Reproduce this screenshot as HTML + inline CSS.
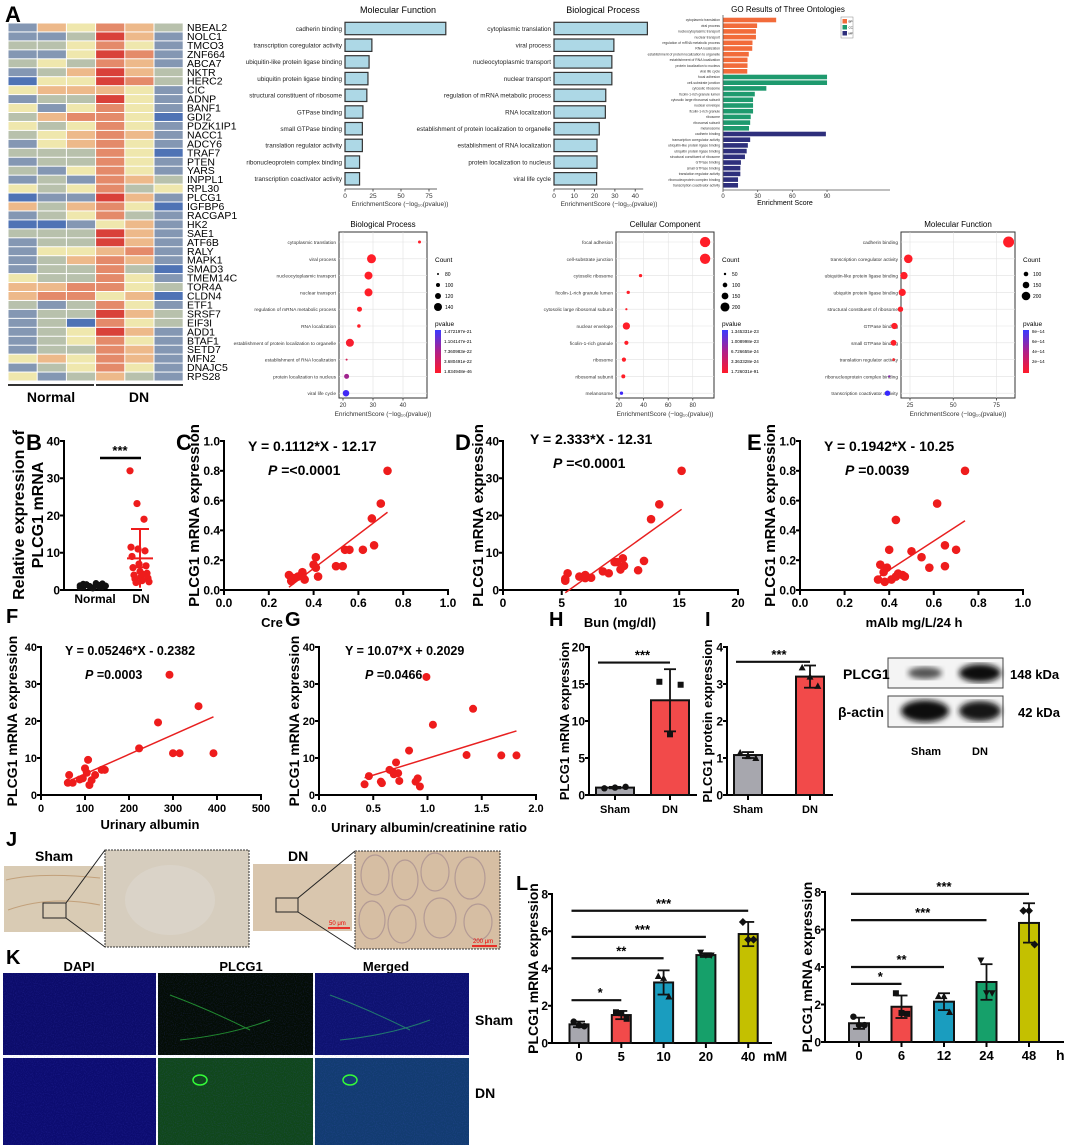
<!DOCTYPE html>
<html><head><meta charset="utf-8"><style>
html,body{margin:0;padding:0;background:#fff}
svg{display:block;font-family:"Liberation Sans",Arial,sans-serif}
</style></head><body>
<svg id="fig" width="1065" height="1145" viewBox="0 0 1065 1145" xmlns="http://www.w3.org/2000/svg">
<defs>
<linearGradient id="pgrad" x1="0" y1="0" x2="0" y2="1"><stop offset="0" stop-color="#3a3aff"/><stop offset="0.5" stop-color="#b0208a"/><stop offset="1" stop-color="#ff1a2a"/></linearGradient>
<filter id="blur1"><feGaussianBlur stdDeviation="3"/></filter>
<filter id="noiseB" x="0" y="0" width="1" height="1"><feTurbulence type="fractalNoise" baseFrequency="0.9" numOctaves="1" seed="3"/><feColorMatrix values="0 0 0 0 0.1  0 0 0 0 0.1  0 0 0 0 0.9  0 0 0 1.6 -0.7"/><feComposite in2="SourceGraphic" operator="in"/></filter>
</defs>
<text x="5" y="22" font-size="22" font-weight="bold">A</text>
<text x="26" y="450" font-size="22" font-weight="bold">B</text>
<text x="176" y="450" font-size="22" font-weight="bold">C</text>
<text x="455" y="450" font-size="22" font-weight="bold">D</text>
<text x="747" y="450" font-size="22" font-weight="bold">E</text>
<text x="6" y="623" font-size="20" font-weight="bold">F</text>
<text x="285" y="626" font-size="20" font-weight="bold">G</text>
<text x="549" y="626" font-size="20" font-weight="bold">H</text>
<text x="705" y="626" font-size="20" font-weight="bold">I</text>
<text x="6" y="846" font-size="20" font-weight="bold">J</text>
<text x="6" y="964" font-size="20" font-weight="bold">K</text>
<text x="516" y="890" font-size="20" font-weight="bold">L</text>

<g>
<text x="35" y="861" font-size="14" font-weight="bold">Sham</text>
<rect x="4" y="866" width="99" height="66" fill="#d9cbb4"/>
<path d="M6 880 Q40 872 100 878 M8 910 Q50 895 100 905" stroke="#c2a07a" stroke-width="1" fill="none"/>
<rect x="43" y="903" width="23" height="15" fill="none" stroke="#222" stroke-width="1"/>
<line x1="66" y1="903" x2="105" y2="850" stroke="#222"/><line x1="66" y1="918" x2="105" y2="947" stroke="#222"/>
<rect x="105" y="850" width="144" height="97" fill="#d6cdbe" stroke="#333" stroke-dasharray="2,1"/>
<ellipse cx="170" cy="900" rx="45" ry="35" fill="#dcd6cc" opacity="0.7"/>
<text x="288" y="861" font-size="14" font-weight="bold">DN</text>
<rect x="253" y="864" width="99" height="67" fill="#d9c6ae"/>
<rect x="276" y="898" width="22" height="14" fill="none" stroke="#222"/>
<line x1="298" y1="898" x2="355" y2="851" stroke="#222"/><line x1="298" y1="912" x2="355" y2="949" stroke="#222"/>
<line x1="328" y1="928" x2="350" y2="928" stroke="#e00" stroke-width="1.5"/>
<text x="329" y="925" font-size="6" fill="#e00">50 μm</text>
<rect x="355" y="851" width="145" height="98" fill="#d6bea3" stroke="#333" stroke-dasharray="2,1"/>
<g fill="none" stroke="#b39a95" stroke-width="1.2">
<ellipse cx="375" cy="875" rx="14" ry="20"/><ellipse cx="405" cy="880" rx="13" ry="20"/><ellipse cx="435" cy="872" rx="14" ry="19"/><ellipse cx="470" cy="878" rx="15" ry="21"/>
<ellipse cx="372" cy="920" rx="13" ry="19"/><ellipse cx="402" cy="924" rx="14" ry="19"/><ellipse cx="440" cy="918" rx="16" ry="20"/><ellipse cx="478" cy="922" rx="14" ry="18"/></g>
<line x1="472" y1="946" x2="497" y2="946" stroke="#e00" stroke-width="1.5"/>
<text x="473" y="943" font-size="6" fill="#e00">200 μm</text>
</g>

<g>
<text x="79" y="971" font-size="13" font-weight="bold" text-anchor="middle">DAPI</text>
<text x="241" y="971" font-size="13" font-weight="bold" text-anchor="middle">PLCG1</text>
<text x="386" y="971" font-size="13" font-weight="bold" text-anchor="middle">Merged</text>
<rect x="3" y="973" width="153" height="82" fill="#0c0c6a"/>
<rect x="158" y="973" width="155" height="82" fill="#040d05"/>
<path d="M170 995 Q210 1010 250 1030 M180 1040 Q230 1035 270 1020" stroke="#1f8a2a" stroke-width="1" fill="none"/>
<rect x="315" y="973" width="154" height="82" fill="#0e1270"/>
<path d="M330 995 Q370 1010 410 1030 M340 1040 Q390 1035 430 1020" stroke="#1f7a6a" stroke-width="1" fill="none"/>
<rect x="3" y="1058" width="153" height="87" fill="#0c0c70"/>
<rect x="158" y="1058" width="155" height="87" fill="#10471a"/>
<ellipse cx="200" cy="1080" rx="7" ry="5" fill="none" stroke="#3f3" stroke-width="1.5"/>
<rect x="315" y="1058" width="154" height="87" fill="#123c70"/>
<ellipse cx="350" cy="1080" rx="7" ry="5" fill="none" stroke="#3f3" stroke-width="1.5"/>
<rect x="3" y="973" width="466" height="172" fill="#fff" filter="url(#noiseB)" opacity="0.25"/>
<text x="475" y="1025" font-size="14" font-weight="bold">Sham</text>
<text x="475" y="1098" font-size="14" font-weight="bold">DN</text>
</g>

<g>
<rect x="888" y="658" width="115" height="30" fill="#f4f4f4" stroke="#444"/>
<rect x="888" y="696" width="115" height="31" fill="#f4f4f4" stroke="#444"/>
<ellipse cx="925" cy="673" rx="17" ry="6" fill="#555" filter="url(#blur1)"/>
<ellipse cx="980" cy="673" rx="21" ry="9" fill="#111" filter="url(#blur1)"/>
<ellipse cx="925" cy="711" rx="24" ry="11" fill="#0a0a0a" filter="url(#blur1)"/>
<ellipse cx="980" cy="711" rx="21" ry="10" fill="#151515" filter="url(#blur1)"/>
<text x="843" y="679" font-size="14" font-weight="bold">PLCG1</text>
<text x="838" y="717" font-size="14" font-weight="bold">β-actin</text>
<text x="1010" y="679" font-size="13" font-weight="bold">148 kDa</text>
<text x="1018" y="717" font-size="13" font-weight="bold">42 kDa</text>
<text x="926" y="755" font-size="11" font-weight="bold" text-anchor="middle">Sham</text>
<text x="980" y="755" font-size="11" font-weight="bold" text-anchor="middle">DN</text>
</g>
</svg>
<script>
const heatGenes=["NBEAL2","NOLC1","TMCO3","ZNF664","ABCA7","NKTR","HERC2","CIC","ADNP","BANF1","GDI2","PDZK1IP1","NACC1","ADCY6","TRAF7","PTEN","YARS","INPPL1","RPL30","PLCG1","IGFBP6","RACGAP1","HK2","SAE1","ATF6B","RALY","MAPK1","SMAD3","TMEM14C","TOR4A","CLDN4","ETF1","SRSF7","EIF3I","ADD1","BTAF1","SETD7","MFN2","DNAJC5","RPS28"];
const heatLevels=[[1,4,3,5,4,2],[1,1,2,6,4,1],[2,2,3,5,3,1],[1,1,3,6,5,1],[2,3,2,5,4,1],[1,2,4,6,4,2],[0,3,3,6,5,2],[3,4,4,4,3,1],[1,2,2,6,3,1],[3,1,3,5,3,1],[2,4,5,5,3,0],[3,2,3,5,3,1],[2,3,4,5,4,1],[1,3,4,5,3,1],[2,2,2,5,3,0],[1,2,2,5,3,1],[2,1,3,5,3,1],[1,2,1,5,4,2],[3,2,3,5,2,3],[0,1,1,6,4,1],[4,2,4,5,3,0],[1,2,3,5,2,1],[0,0,1,3,4,1],[2,2,2,6,4,1],[1,2,2,6,4,1],[1,3,3,4,5,1],[1,2,4,5,4,1],[1,2,2,5,2,0],[3,2,2,5,3,1],[4,4,5,5,3,2],[4,5,5,3,4,0],[2,1,2,5,3,1],[1,2,2,6,4,2],[1,2,0,5,3,2],[1,2,3,6,4,1],[1,2,3,5,3,1],[1,2,2,5,4,1],[3,4,3,5,4,1],[1,2,3,5,3,1],[3,1,2,4,2,1]];
const heatGroups=["Normal","DN"];
const mfTerms=["cadherin binding","transcription coregulator activity","ubiquitin-like protein ligase binding","ubiquitin protein ligase binding","structural constituent of ribosome","GTPase binding","small GTPase binding","translation regulator activity","ribonucleoprotein complex binding","transcription coactivator activity"];
const mfScores=[90,24,21.5,20.5,19.5,16,15.5,15.5,13,13];
const bpTerms=["cytoplasmic translation","viral process","nucleocytoplasmic transport","nuclear transport","regulation of mRNA metabolic process","RNA localization","establishment of protein localization to organelle","establishment of RNA localization","protein localization to nucleus","viral life cycle"];
const bpScores=[46,29.5,28.5,28.5,25.5,25.3,22.3,21.2,21.2,21];
const ccTerms=["focal adhesion","cell-substrate junction","cytosolic ribosome","ficolin-1-rich granule lumen","cytosolic large ribosomal subunit","nuclear envelope","ficolin-1-rich granule","ribosome","ribosomal subunit","melanosome"];
const ccScores=[90,90,37.5,27.5,26,26,26,24,23.5,22.5];
const mf3Scores=[89,23.5,21.5,20.5,19,15.5,15,15,13,13];
const bpDotScore=[45.5,29.5,28.5,28.5,25.5,25.3,22.3,21.2,21.2,21];
const bpDotCount=[90,150,140,140,110,95,140,65,110,125];
const bpDotP=[1.8e-46,1e-30,1e-29,1e-29,3e-26,5e-26,5e-23,3e-22,7e-22,1.4e-21];
const ccDotScore=[90,90,37.5,27.5,26,26,26,24,23.5,22];
const ccDotCount=[230,230,70,70,45,160,90,90,85,70];
const ccDotP=[1.7e-91,1.7e-91,1e-40,1e-30,1e-28,1e-28,1e-28,1e-26,1e-26,1.3e-23];
const mfDotScore=[82,24,21.5,20.5,19.5,16,15.5,15.5,13,12];
const mfDotCount=[260,200,170,165,120,140,130,50,40,120];
const mfDotP=[1e-88,1e-24,1e-22,1e-21,1e-20,1e-17,1e-16,1e-16,5e-14,8e-14];
const bNormal=[1.2,0.8,1.5,1.0,0.6,1.8,1.3,0.9,1.1,0.7,1.6,1.4,1.0,0.5,1.2,0.9,1.7,1.1];
const bDN=[32,23.2,19,11.5,11,10.5,9,7,6.5,6,5,4.5,4,3.5,3.2,3,2.5,2.2,2,4.2];
const cX=[0.29,0.30,0.31,0.33,0.35,0.36,0.35,0.40,0.41,0.41,0.42,0.50,0.53,0.54,0.56,0.62,0.66,0.67,0.70,0.73];
const cY=[0.10,0.06,0.08,0.09,0.12,0.07,0.10,0.17,0.22,0.15,0.09,0.16,0.16,0.27,0.27,0.27,0.48,0.30,0.58,0.80];
const dX=[5.3,5.3,5.5,6.5,7,7,7.5,8.5,9,9.5,9.7,10,10.2,10.3,11.5,12,12.6,13.3,15.2];
const dY=[3,2.5,4.5,3.6,4,3.2,3.3,5,4.5,7.5,7.5,5.5,8.5,6.5,5.3,7.8,19,23,32];
const eX=[0.35,0.36,0.375,0.38,0.39,0.40,0.41,0.43,0.43,0.44,0.46,0.47,0.50,0.545,0.58,0.615,0.65,0.65,0.70,0.74];
const eY=[0.07,0.17,0.12,0.055,0.15,0.27,0.07,0.09,0.47,0.11,0.10,0.09,0.26,0.22,0.15,0.58,0.16,0.30,0.27,0.80];
const fX=[61,64,72,88,95,100,104,107,110,115,123,138,145,223,266,292,300,315,358,392];
const fY=[3.3,5.4,3.3,4.2,4.5,7.2,6,9.5,2.7,4,5.4,6.8,6.8,12.6,19.6,32.5,11.3,11.3,24,11.3];
const gX=[0.42,0.46,0.57,0.58,0.65,0.68,0.69,0.71,0.73,0.74,0.83,0.89,0.91,0.93,0.99,1.05,1.36,1.42,1.68,1.82];
const gY=[2.9,5.1,3.6,3.2,6.8,6.3,5.6,8.8,5.9,3.8,12,3.6,4.5,2.3,31.9,19,10.8,23.3,10.7,10.7];
const unitTicks=[0,0.2,0.4,0.6,0.8,1.0];
const unitTickLabels=["0.0","0.2","0.4","0.6","0.8","1.0"];
const forty=[0,10,20,30,40];
const hCats=["Sham","DN"], hMeans=[1.0,12.8], hErr=[0.1,4.2], hPts=[[0.9,1.0,1.1],[15.3,8.2,14.9]];
const iCats=["Sham","DN"], iMeans=[1.08,3.2], iErr=[0.08,0.3], iPts=[[1.15,1.05,1.0],[3.45,3.2,2.95]];
const l1Cats=["0","5","10","20","40"], l1Means=[1.0,1.5,3.25,4.72,5.85], l1Err=[0.15,0.22,0.65,0.1,0.65];
const l1Pts=[[1.15,0.95,0.9],[1.65,1.6,1.3],[3.6,3.5,2.5],[4.85,4.7,4.7],[6.5,5.55,5.55]];
const l1Sig=[[0,1,2.3,"*"],[0,2,4.55,"**"],[0,3,5.7,"***"],[0,4,7.1,"***"]];
const l2Cats=["0","6","12","24","48"], l2Means=[1.0,1.88,2.15,3.2,6.35], l2Err=[0.3,0.6,0.45,0.95,1.05];
const l2Pts=[[1.35,0.9,0.9],[2.6,1.55,1.5],[2.45,2.45,1.6],[4.35,2.6,2.6],[7.0,7.0,5.2]];
const l2Sig=[[0,1,3.1,"*"],[0,2,4.0,"**"],[0,3,6.5,"***"],[0,4,7.9,"***"]];

const svg=document.getElementById('fig');
const NS='http://www.w3.org/2000/svg';
function mk(tag,attrs,parent){const e=document.createElementNS(NS,tag);for(const k in attrs)e.setAttribute(k,attrs[k]);(parent||svg).appendChild(e);return e;}
function lin(d0,d1,r0,r1){return v=>r0+(v-d0)*(r1-r0)/(d1-d0);}
function txt(s,x,y,size,name,o){o=o||{};const e=mk('text',{x:x,y:y,'font-size':size,'text-anchor':o.anchor||'start','font-weight':o.bold?'bold':'normal',fill:o.fill||'#000'});
 if(o.rot)e.setAttribute('transform','rotate(-90 '+x+' '+y+')');
 if(o.family)e.setAttribute('font-family',o.family);
 e.textContent=s;
 
 
 return e;}
function ln(x1,y1,x2,y2,w,c,name){const e=mk('line',{x1:x1,y1:y1,x2:x2,y2:y2,stroke:c||'#000','stroke-width':w||1});
 
 
 return e;}

const heatColors=['#4f73b5','#8497b3','#b8c1ac','#efe7ad','#edb98a','#e48a6a','#d9413a'];
(function(){const x0=8,y0=23,cw=29.2,rh=8.95;
 heatLevels.forEach((row,r)=>{row.forEach((v,c)=>{const e=mk('rect',{x:x0+c*cw+0.5,y:y0+r*rh+0.5,width:cw-1,height:rh-1,fill:heatColors[v]});
  
  });
  txt(heatGenes[r],187,y0+r*rh+8,10.5,'gene-label');});
 const yb=y0+heatLevels.length*rh+4;
 ln(8,yb,94,yb,2,'#333','group-bar-normal');ln(96,yb,183,yb,2,'#333','group-bar-dn');
 txt(heatGroups[0],51,yb+17,14,'group-label-normal',{anchor:'middle',bold:true});
 txt(heatGroups[1],139,yb+17,14,'group-label-dn',{anchor:'middle',bold:true});})();

function goBar(terms,scores,x0,pxPer,ticks,title,titleX,name){const sx=v=>x0+v*pxPer;
 txt(title,titleX,13,9,name+'-title',{anchor:'middle'});
 terms.forEach((t,i)=>{const yc=28.5+i*16.7;
  const b=mk('rect',{x:sx(0),y:yc-6.2,width:sx(scores[i])-sx(0),height:12.4,fill:'#add8e6',stroke:'#333','stroke-width':1.2});
  
  
  txt(t,x0-3,yc+2.3,6.3,name+'-term-label',{anchor:'end',fill:'#222'});});
 ln(x0,189,sx(ticks[ticks.length-1])+8,189,0.8,'#333',name+'-x-axis');
 ticks.forEach(t=>{ln(sx(t),189,sx(t),191.5,0.8,'#333',name+'-tick');txt(String(t),sx(t),198,6.5,name+'-tick-label',{anchor:'middle',fill:'#333'});});
 txt('EnrichmentScore (−log₁₀(pvalue))',x0+55,206,6.5,name+'-x-title',{anchor:'middle',fill:'#333'});}
goBar(mfTerms,mfScores,345,1.12,[0,25,50,75],'Molecular Function',398,'mf-bar');
goBar(bpTerms,bpScores,554,2.03,[0,10,20,30,40],'Biological Process',603,'bp-bar');

(function(){const x0=723,per=1.156,sx=v=>x0+v*per;const cols=['#f26b3a','#1e9a6e','#2e2f7c'];
 const groups=[[bpTerms,bpScores],[ccTerms,ccScores],[mfTerms,mf3Scores]];
 txt('GO Results of Three Ontologies',788,12,8,'go3-title',{anchor:'middle'});
 let k=0;groups.forEach((g,gi)=>{g[0].forEach((t,i)=>{const yc=20+k*5.7;
  const b=mk('rect',{x:x0,y:yc-2.3,width:sx(g[1][i])-x0,height:4.6,fill:cols[gi]});
  
  
  txt(t,x0-3,yc+1.2,3.4,'go3-term-label',{anchor:'end',fill:'#333'});k++;});});
 ln(x0,15,x0,190,0.8,'#555','go3-y-axis');ln(x0,190,890,190,0.8,'#555','go3-x-axis');
 [0,30,60,90].forEach(t=>{ln(sx(t),190,sx(t),192,0.8,'#555','go3-tick');txt(String(t),sx(t),198,6,'go3-tick-label',{anchor:'middle',fill:'#333'});});
 txt('Enrichment Score',785,205,7,'go3-x-title',{anchor:'middle'});
 const lg=mk('rect',{x:841,y:17,width:12,height:21,fill:'#fff',stroke:'#888','stroke-width':0.5});
 
 
 ['BP','CC','MF'].forEach((s,i)=>{const r=mk('rect',{x:842.5,y:19+i*6,width:4.5,height:4.5,fill:cols[i]});
  
  
  txt(s,848.5,22.5+i*6,3,'go3-legend-label');});})();

function dotPlot(terms,scores,counts,pvals,cfg){const sx=lin(cfg.d0,cfg.d0+1,cfg.p0,cfg.p0+cfg.per);
 txt(cfg.title,(cfg.fx0+cfg.fx1)/2,227,8,cfg.name+'-title',{anchor:'middle'});
 const fr=mk('rect',{x:cfg.fx0,y:232,width:cfg.fx1-cfg.fx0,height:166,fill:'#fff',stroke:'#333','stroke-width':1});
 
 
 cfg.ticks.forEach(t=>{ln(sx(t),232,sx(t),398,0.5,'#ddd',cfg.name+'-grid-v');ln(sx(t),398,sx(t),400.5,0.8,'#333',cfg.name+'-tick');txt(String(t),sx(t),407,6,cfg.name+'-tick-label',{anchor:'middle',fill:'#333'});});
 const pmin=Math.min(...pvals),pmax=cfg.pmax;
 terms.forEach((t,i)=>{const yc=242+i*16.8;ln(cfg.fx0,yc,cfg.fx1,yc,0.6,'#e2e2e2',cfg.name+'-grid-h');
  txt(t,cfg.fx0-3,yc+2,4.8,cfg.name+'-term-label',{anchor:'end',fill:'#333'});
  const tt=Math.min(1,Math.max(0,(pvals[i]-pmin)/(pmax-pmin)));
  const col='rgb('+Math.round(255-200*tt)+','+Math.round(30+10*tt)+','+Math.round(40+215*tt)+')';
  const d=mk('circle',{cx:sx(scores[i]),cy:yc,r:Math.max(1,cfg.rad(counts[i])),fill:col});
  
  });
 txt('EnrichmentScore (−log₁₀(pvalue))',(cfg.fx0+cfg.fx1)/2,416,6.5,cfg.name+'-x-title',{anchor:'middle',fill:'#333'});
 const lx=cfg.fx1+8;txt('Count',lx,262,6.5,cfg.name+'-count-legend-title');
 cfg.legCounts.forEach((c,i)=>{const d=mk('circle',{cx:lx+3,cy:274+i*11,r:cfg.rad(c),fill:'#000'});
  
  
  txt(String(c),lx+10,276+i*11,5,cfg.name+'-count-legend-label');});
 txt('pvalue',lx,326,6.5,cfg.name+'-pvalue-legend-title');
 const g=mk('rect',{x:lx,y:330,width:6,height:43,fill:'url(#pgrad)'});
 
 
 cfg.pLabels.forEach((s,i)=>txt(s,lx+9,333+i*10,4.5,cfg.name+'-pvalue-legend-label'));}
dotPlot(bpTerms,bpDotScore,bpDotCount,bpDotP,{name:'bp-dot',title:'Biological Process',fx0:339,fx1:427,d0:20,p0:343,per:3,ticks:[20,30,40],pmax:1.47e-21,rad:c=>4*(c-60)/80,legCounts:[80,100,120,140],pLabels:['1.472197e-21','1.104147e-21','7.360983e-22','3.680491e-22','1.834948e-46']});
dotPlot(ccTerms,ccDotScore,ccDotCount,ccDotP,{name:'cc-dot',title:'Cellular Component',fx0:616,fx1:714,d0:20,p0:619,per:1.23,ticks:[20,40,60,80],pmax:1.345e-23,rad:c=>1+(c-40)*0.022,legCounts:[50,100,150,200],pLabels:['1.345331e-23','1.008998e-23','6.726655e-24','3.363328e-24','1.726031e-91']});
dotPlot(mfTerms,mfDotScore,mfDotCount,mfDotP,{name:'mf-dot',title:'Molecular Function',fx0:901,fx1:1015,d0:25,p0:910,per:1.73,ticks:[25,50,75],pmax:8e-14,rad:c=>0.3+c*0.02,legCounts:[100,150,200],pLabels:['8e−14','6e−14','4e−14','2e−14','']});

function yAxis(x,py0,py1,d0,d1,ticks,labels,fs,name){const sy=lin(d0,d1,py0,py1);
 ln(x,py1-1,x,py0+1,2,'#000',name+'-y-axis');
 ticks.forEach((t,i)=>{ln(x-4,sy(t),x,sy(t),2,'#000',name+'-y-tick');txt(labels[i],x-4,sy(t)+fs*0.36,fs,name+'-y-tick-label',{anchor:'end',bold:true});});return sy;}
function xAxis(y,px0,px1,d0,d1,ticks,labels,fs,name){const sx=lin(d0,d1,px0,px1);
 ln(px0-1,y,px1+1,y,2,'#000',name+'-x-axis');
 ticks.forEach((t,i)=>{ln(sx(t),y,sx(t),y+5,2,'#000',name+'-x-tick');txt(labels[i],sx(t),y+17,fs,name+'-x-tick-label',{anchor:'middle',bold:true});});return sx;}
function scatter(xs,ys,c){const sy=yAxis(c.px0,c.py0,c.py1,c.yd0,c.yd1,c.yt,c.ytl,c.fs,c.name);
 const sx=xAxis(c.py0,c.px0,c.px1,c.xd0,c.xd1,c.xt,c.xtl,c.fs,c.name);
 txt('PLCG1 mRNA expression',c.ylx,(c.py0+c.py1)/2,c.yfs||15,c.name+'-y-title',{anchor:'middle',bold:true,rot:true});
 const n=xs.length;const mx=xs.reduce((a,b)=>a+b)/n,my=ys.reduce((a,b)=>a+b)/n;let sxy=0,sxx=0;
 for(let i=0;i<n;i++){sxy+=(xs[i]-mx)*(ys[i]-my);sxx+=(xs[i]-mx)**2;}const m=sxy/sxx,b=my-m*mx;
 const xa=Math.min(...xs),xb=Math.max(...xs);
 ln(sx(xa),sy(m*xa+b),sx(xb),sy(m*xb+b),1.5,'#e82020',c.name+'-fit-line');
 xs.forEach((v,i)=>{const d=mk('circle',{cx:sx(v),cy:sy(ys[i]),r:c.r||4.3,fill:'#ee1c1c'});
  
  });
 txt(c.eq,c.eqx,c.eqy,c.efs||14,c.name+'-equation',{bold:true});
 const p=txt('',c.eqx+c.pdx,c.eqy+24,c.efs||14,c.name+'-p-value',{bold:true});
 const ts=document.createElementNS(NS,'tspan');ts.setAttribute('font-style','italic');ts.textContent='P';p.appendChild(ts);p.appendChild(document.createTextNode(' ='+c.p));
 if(c.xl)txt(c.xl,c.xlx,c.xly,c.xlfs||13,c.name+'-x-title',{anchor:'middle',bold:true});}
scatter(cX,cY,{name:'c',px0:224,px1:448,py0:590,py1:441,xd0:0,xd1:1,yd0:0,yd1:1,xt:unitTicks,xtl:unitTickLabels,yt:unitTicks,ytl:unitTickLabels,fs:12,ylx:199,eq:'Y = 0.1112*X - 12.17',eqx:248,eqy:451,pdx:20,p:'<0.0001',xl:'Cre',xlx:272,xly:627});
scatter(dX,dY,{name:'d',px0:503,px1:738,py0:590,py1:441,xd0:0,xd1:20,yd0:0,yd1:40,xt:[0,5,10,15,20],xtl:['0','5','10','15','20'],yt:forty,ytl:['0','10','20','30','40'],fs:12,ylx:483,eq:'Y = 2.333*X - 12.31',eqx:530,eqy:444,pdx:23,p:'<0.0001',xl:'Bun (mg/dl)',xlx:620,xly:627});
scatter(eX,eY,{name:'e',px0:800,px1:1023,py0:590,py1:441,xd0:0,xd1:1,yd0:0,yd1:1,xt:unitTicks,xtl:unitTickLabels,yt:unitTicks,ytl:unitTickLabels,fs:12,ylx:775,eq:'Y = 0.1942*X - 10.25',eqx:824,eqy:451,pdx:21,p:'0.0039',xl:'mAlb mg/L/24 h',xlx:914,xly:627});
scatter(fX,fY,{name:'f',px0:41,px1:261,py0:795,py1:647,xd0:0,xd1:500,yd0:0,yd1:40,xt:[0,100,200,300,400,500],xtl:['0','100','200','300','400','500'],yt:forty,ytl:['0','10','20','30','40'],fs:11,ylx:17,yfs:14,r:4,eq:'Y = 0.05246*X - 0.2382',eqx:65,eqy:655,pdx:20,p:'0.0003',efs:12.5,xl:'Urinary albumin',xlx:150,xly:829});
scatter(gX,gY,{name:'g',px0:319,px1:536,py0:795,py1:647,xd0:0,xd1:2,yd0:0,yd1:40,xt:[0,0.5,1,1.5,2],xtl:['0.0','0.5','1.0','1.5','2.0'],yt:forty,ytl:['0','10','20','30','40'],fs:11,ylx:299,yfs:14,r:4,eq:'Y = 10.07*X + 0.2029',eqx:345,eqy:655,pdx:20,p:'0.0466',efs:12.5,xl:'Urinary albumin/creatinine ratio',xlx:429,xly:832});

(function(){const sy=yAxis(64,590,441,0,40,forty,['0','10','20','30','40'],12,'b');
 ln(63,590,142,590,2,'#000','b-x-axis');
 txt('Relative expression of',24,515,16,'b-y-title-line1',{anchor:'middle',bold:true,rot:true});
 txt('PLCG1 mRNA',43,515,16,'b-y-title-line2',{anchor:'middle',bold:true,rot:true});
 bNormal.forEach((v,i)=>{const d=mk('circle',{cx:80+(i%9)*3.2,cy:sy(v),r:3.3,fill:'#111'});
  
  });
 bDN.forEach((v,i)=>{const d=mk('circle',{cx:130+((i*7)%20),cy:sy(v),r:3.6,fill:'#ee1c1c'});
  
  });
 const mean=bDN.reduce((a,b)=>a+b)/bDN.length;const sd=Math.sqrt(bDN.reduce((a,b)=>a+(b-mean)**2,0)/(bDN.length-1));
 ln(127,sy(mean),153,sy(mean),2,'#ee1c1c','b-dn-mean');ln(140,sy(Math.max(0.5,mean-sd)),140,sy(mean+sd),2,'#ee1c1c','b-dn-sd');
 ln(131,sy(mean+sd),149,sy(mean+sd),2,'#ee1c1c','b-dn-sd-cap');ln(131,sy(Math.max(0.5,mean-sd+5.5)),149,sy(Math.max(0.5,mean-sd+5.5)),2,'#ee1c1c','b-dn-sd-cap-low');
 ln(100,458,141,458,2.5,'#000','b-sig-line');txt('***',120,455,13,'b-sig-label',{anchor:'middle',bold:true});
 txt('Normal',95,603,12,'b-x-label-normal',{anchor:'middle',bold:true});txt('DN',141,603,12,'b-x-label-dn',{anchor:'middle',bold:true});})();

const barCols=['#a7a7ae','#f24a4a','#1a9dbf','#16a06a','#c4c000'];
function marker(shape,x,y,name){let e;
 if(shape==0)e=mk('circle',{cx:x,cy:y,r:3.2,fill:'#111'});
 else if(shape==1)e=mk('rect',{x:x-3,y:y-3,width:6,height:6,fill:'#111'});
 else if(shape==2)e=mk('polygon',{points:(x-3.5)+','+(y+3)+' '+(x+3.5)+','+(y+3)+' '+x+','+(y-3.5),fill:'#111'});
 else if(shape==3)e=mk('polygon',{points:(x-3.5)+','+(y-3)+' '+(x+3.5)+','+(y-3)+' '+x+','+(y+3.5),fill:'#111'});
 else e=mk('polygon',{points:x+','+(y-4)+' '+(x+4)+','+y+' '+x+','+(y+4)+' '+(x-4)+','+y,fill:'#111'});
 
 }
function barChart(cats,means,errs,pts,sig,c){const sy=yAxis(c.ax,c.py0,c.py1,0,c.ymax,c.yt,c.yt.map(String),12,c.name);
 ln(c.ax-1,c.py0,c.axEnd,c.py0,2,'#000',c.name+'-x-axis');
 const cx=i=>c.c0+i*c.step;
 cats.forEach((s,i)=>{const b=mk('rect',{x:cx(i)-c.bw/2,y:sy(means[i]),width:c.bw,height:sy(0)-sy(means[i]),fill:barCols[c.colIdx?c.colIdx[i]:i],stroke:'#111','stroke-width':2});
  
  
  ln(cx(i),sy(means[i]-errs[i]),cx(i),sy(means[i]+errs[i]),1.8,'#111',c.name+'-error-bar');
  ln(cx(i)-6,sy(means[i]+errs[i]),cx(i)+6,sy(means[i]+errs[i]),1.8,'#111',c.name+'-error-cap');
  ln(cx(i)-6,sy(means[i]-errs[i]),cx(i)+6,sy(means[i]-errs[i]),1.8,'#111',c.name+'-error-cap');
  pts[i].forEach((v,j)=>marker(c.shapes?c.shapes[i]:i,cx(i)+(j-1)*c.bw*0.28,sy(v),c.name+'-point'));
  ln(cx(i),c.py0,cx(i),c.py0+5,2,'#000',c.name+'-x-tick');
  txt(s,cx(i),c.py0+18,c.xfs||13,c.name+'-x-tick-label',{anchor:'middle',bold:true});});
 sig.forEach(s=>{const y=sy(s[2]);ln(cx(s[0])-c.bw/2+2,y,cx(s[1]),y,2.2,'#111',c.name+'-sig-line');txt(s[3],(cx(s[0])+cx(s[1]))/2,y-3,13,c.name+'-sig-label',{anchor:'middle',bold:true});});
 txt(c.ytitle,c.ylx,(c.py0+c.py1)/2,c.yfs||14,c.name+'-y-title',{anchor:'middle',bold:true,rot:true});
 if(c.unit)txt(c.unit,c.unitX,c.py0+18,14,c.name+'-unit',{bold:true});}
barChart(hCats,hMeans,hErr,hPts,[[0,1,17.9,'***']],{name:'h',ax:589,axEnd:697,py0:795,py1:647,ymax:20,yt:[0,5,10,15,20],c0:615,step:55,bw:38,colIdx:[0,1],shapes:[0,1],ytitle:'PLCG1 mRNA expression',ylx:569,yfs:13,xfs:11});
barChart(iCats,iMeans,iErr,iPts,[[0,1,3.6,'***']],{name:'i',ax:727,axEnd:833,py0:795,py1:647,ymax:4,yt:[0,1,2,3,4],c0:748,step:62,bw:28,colIdx:[0,1],shapes:[2,2],ytitle:'PLCG1 protein expression',ylx:712,yfs:13,xfs:11});
barChart(l1Cats,l1Means,l1Err,l1Pts,l1Sig,{name:'l-dose',ax:552,axEnd:772,py0:1043,py1:894,ymax:8,yt:[0,2,4,6,8],c0:579,step:42.3,bw:19,ytitle:'PLCG1 mRNA expression',ylx:538,unit:'mM',unitX:763});
barChart(l2Cats,l2Means,l2Err,l2Pts,l2Sig,{name:'l-time',ax:825,axEnd:1064,py0:1042,py1:892,ymax:8,yt:[0,2,4,6,8],c0:859,step:42.5,bw:20,ytitle:'PLCG1 mRNA expression',ylx:812,unit:'h',unitX:1056});
</script>
</body></html>
